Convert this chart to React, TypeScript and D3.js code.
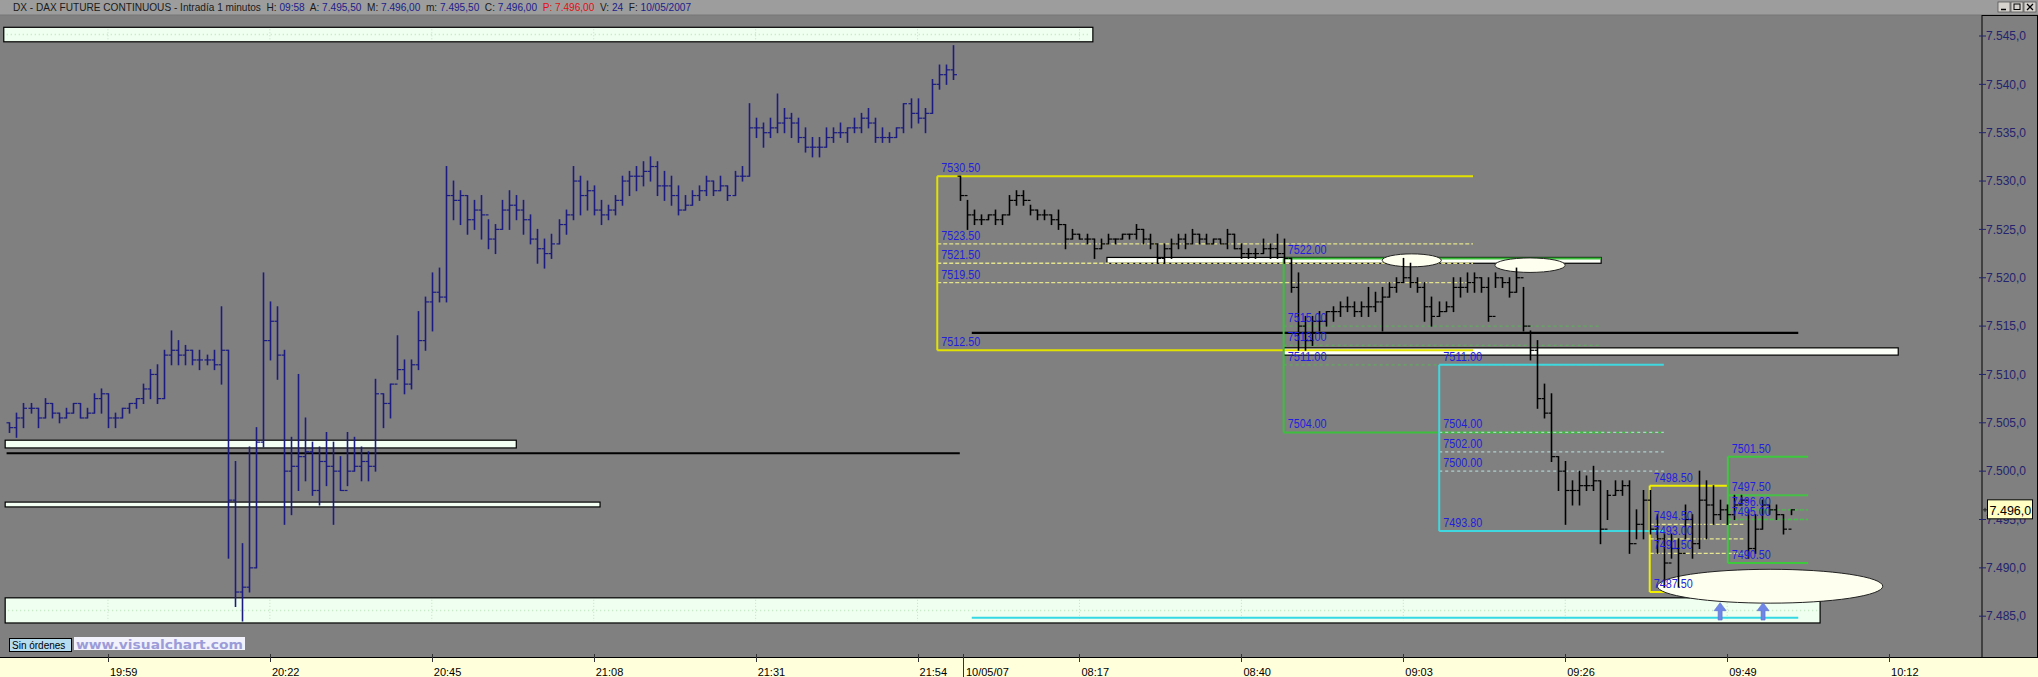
import React from "react";
import * as d3 from "d3";

// ---------- DATA ----------
// Session 1 (09/05/07, 19:45 - 21:59), one bar per minute: [high, low, close]
const day1Bars: [number, number, number][] = [
  [7505.0, 7504.0, 7504.5], [7506.0, 7503.5, 7505.5], [7507.0, 7504.5, 7506.5], [7507.0, 7506.0, 7506.5],
  [7506.5, 7504.5, 7505.5], [7507.5, 7505.5, 7507.0], [7507.0, 7505.5, 7506.0], [7506.0, 7505.0, 7505.5],
  [7506.5, 7505.5, 7506.0], [7507.0, 7506.0, 7507.0], [7507.0, 7505.5, 7505.5], [7506.5, 7505.5, 7506.0],
  [7508.0, 7506.0, 7507.5], [7508.5, 7506.0, 7508.0], [7508.0, 7504.5, 7505.5], [7506.0, 7504.5, 7505.5],
  [7506.5, 7505.5, 7506.5], [7507.0, 7506.0, 7507.0], [7507.5, 7506.5, 7507.5], [7509.0, 7507.0, 7508.5],
  [7510.5, 7507.5, 7510.0], [7511.0, 7507.0, 7507.5], [7512.5, 7507.5, 7512.0], [7514.5, 7511.0, 7512.5],
  [7513.5, 7511.0, 7512.0], [7513.0, 7511.0, 7512.5], [7512.5, 7511.0, 7511.5], [7512.5, 7510.5, 7511.5],
  [7512.0, 7511.0, 7511.5], [7512.5, 7510.5, 7511.0], [7517.0, 7509.0, 7512.5], [7512.5, 7491.0, 7497.0],
  [7501.0, 7486.0, 7487.5], [7492.5, 7484.5, 7488.0], [7502.5, 7487.5, 7490.0], [7504.5, 7490.0, 7503.0],
  [7520.5, 7502.5, 7513.5], [7517.5, 7511.5, 7515.5], [7517.0, 7509.5, 7512.0], [7512.5, 7494.5, 7500.0],
  [7503.5, 7495.5, 7500.5], [7510.0, 7498.0, 7501.5], [7505.5, 7499.0, 7502.0], [7503.0, 7497.5, 7498.0],
  [7502.5, 7496.5, 7501.0], [7504.0, 7498.5, 7500.5], [7503.0, 7494.5, 7500.0], [7501.5, 7498.0, 7498.0],
  [7504.0, 7498.5, 7500.0], [7503.5, 7500.0, 7500.5], [7502.5, 7499.0, 7501.0], [7502.0, 7499.0, 7500.5],
  [7509.5, 7500.0, 7508.0], [7508.0, 7504.5, 7507.0], [7509.0, 7505.5, 7509.0], [7514.0, 7509.5, 7510.5],
  [7511.5, 7508.0, 7509.0], [7511.5, 7508.5, 7511.0], [7516.5, 7510.5, 7513.5], [7518.0, 7512.5, 7517.5],
  [7520.5, 7514.5, 7518.5], [7521.0, 7517.5, 7518.0], [7531.5, 7517.5, 7528.5], [7530.0, 7526.0, 7528.0],
  [7529.0, 7525.5, 7528.5], [7528.5, 7524.5, 7526.0], [7528.0, 7525.0, 7527.0], [7528.5, 7524.0, 7526.5],
  [7526.0, 7523.0, 7524.0], [7525.5, 7522.5, 7525.0], [7528.0, 7525.0, 7527.0], [7529.0, 7525.0, 7527.5],
  [7528.5, 7526.0, 7527.0], [7528.0, 7524.5, 7526.0], [7526.5, 7523.5, 7524.0], [7525.0, 7521.5, 7523.0],
  [7524.0, 7521.0, 7522.5], [7524.5, 7522.0, 7523.5], [7526.0, 7523.5, 7525.5], [7527.0, 7524.5, 7526.5],
  [7531.5, 7526.0, 7530.0], [7530.5, 7526.5, 7528.5], [7530.0, 7527.0, 7529.0], [7529.5, 7526.5, 7527.0],
  [7528.0, 7525.5, 7526.5], [7527.5, 7526.0, 7527.0], [7528.5, 7526.5, 7528.0], [7530.5, 7527.5, 7530.0],
  [7531.0, 7528.5, 7530.5], [7531.5, 7529.0, 7530.5], [7532.0, 7529.5, 7531.0], [7532.5, 7530.0, 7531.5],
  [7532.0, 7528.5, 7529.5], [7531.0, 7528.0, 7529.5], [7530.5, 7527.5, 7528.5], [7529.5, 7526.5, 7527.0],
  [7528.5, 7527.0, 7527.5], [7529.0, 7527.5, 7528.5], [7529.5, 7528.0, 7529.0], [7530.5, 7528.5, 7530.0],
  [7530.0, 7528.5, 7529.0], [7530.5, 7529.0, 7529.5], [7529.5, 7528.0, 7528.5], [7531.0, 7528.5, 7530.5],
  [7531.5, 7530.0, 7530.5], [7538.0, 7530.5, 7535.5], [7536.5, 7534.5, 7535.5], [7536.0, 7533.5, 7535.0],
  [7536.5, 7534.5, 7535.5], [7539.0, 7535.0, 7536.0], [7537.5, 7535.0, 7536.5], [7537.0, 7534.5, 7536.0],
  [7536.5, 7534.0, 7534.5], [7535.5, 7533.0, 7533.5], [7534.5, 7532.5, 7533.5], [7534.5, 7532.5, 7533.5],
  [7535.5, 7533.5, 7534.5], [7535.5, 7534.0, 7535.0], [7536.0, 7534.5, 7535.0], [7535.5, 7534.0, 7535.5],
  [7536.5, 7535.0, 7535.5], [7537.0, 7535.0, 7536.5], [7537.5, 7535.5, 7536.0], [7536.5, 7534.0, 7534.5],
  [7535.5, 7534.0, 7534.5], [7535.0, 7534.0, 7534.5], [7535.5, 7534.5, 7535.5], [7538.0, 7535.0, 7538.0],
  [7538.5, 7535.5, 7537.0], [7538.5, 7536.0, 7536.5], [7537.5, 7535.0, 7537.0], [7540.5, 7537.0, 7540.0],
  [7542.0, 7539.5, 7541.0], [7542.0, 7540.0, 7541.5], [7544.0, 7540.5, 7541.0],
];

// Session 2 (10/05/07, 08:00 - 09:58): [high, low, close]
const day2Bars: [number, number, number][] = [
  [7530.5, 7528.0, 7528.5], [7528.0, 7525.0, 7526.5], [7527.0, 7525.5, 7526.0], [7526.5, 7525.5, 7526.0],
  [7526.5, 7526.0, 7526.5], [7527.0, 7525.5, 7526.0], [7526.5, 7525.5, 7526.5], [7528.5, 7526.5, 7528.0],
  [7529.0, 7527.5, 7528.5], [7529.0, 7527.5, 7528.0], [7527.5, 7526.5, 7527.0], [7527.0, 7526.0, 7526.5],
  [7527.0, 7526.0, 7526.5], [7526.5, 7525.5, 7526.0], [7527.0, 7525.0, 7525.5], [7525.5, 7523.0, 7524.0],
  [7525.0, 7524.0, 7524.5], [7524.5, 7524.0, 7524.0], [7524.5, 7523.5, 7524.0], [7524.0, 7522.0, 7523.0],
  [7524.0, 7523.0, 7523.5], [7524.5, 7523.5, 7524.0], [7524.0, 7523.5, 7524.0], [7524.5, 7524.0, 7524.5],
  [7524.5, 7524.0, 7524.5], [7525.5, 7524.0, 7525.0], [7525.0, 7523.5, 7524.0], [7524.5, 7523.0, 7523.5],
  [7523.5, 7521.5, 7522.0], [7523.5, 7521.5, 7523.0], [7524.0, 7522.0, 7523.5], [7524.5, 7523.0, 7524.0],
  [7524.5, 7523.0, 7523.5], [7525.0, 7523.5, 7524.5], [7524.5, 7523.5, 7524.0], [7524.5, 7523.5, 7523.5],
  [7524.0, 7523.5, 7524.0], [7524.0, 7523.5, 7523.5], [7525.0, 7523.0, 7524.5], [7524.5, 7523.0, 7523.0],
  [7523.5, 7522.0, 7522.5], [7523.0, 7522.0, 7522.5], [7523.0, 7522.0, 7522.5], [7524.0, 7522.5, 7523.0],
  [7523.5, 7522.0, 7523.0], [7524.5, 7522.0, 7522.5], [7524.0, 7521.5, 7522.0], [7522.0, 7518.5, 7519.0],
  [7520.5, 7512.5, 7515.0], [7516.0, 7512.5, 7513.5], [7516.0, 7513.0, 7515.5], [7516.5, 7514.5, 7515.5],
  [7516.5, 7515.0, 7516.5], [7517.0, 7515.5, 7516.5], [7517.5, 7516.0, 7517.0], [7518.0, 7516.5, 7517.0],
  [7517.5, 7516.0, 7516.5], [7517.5, 7516.0, 7517.0], [7519.0, 7516.0, 7517.0], [7518.5, 7516.5, 7517.5],
  [7519.0, 7514.5, 7518.0], [7519.5, 7518.0, 7519.0], [7520.0, 7518.5, 7519.5], [7522.0, 7519.5, 7520.0],
  [7521.5, 7519.0, 7519.5], [7520.0, 7518.5, 7519.0], [7519.5, 7515.5, 7517.0], [7518.0, 7515.0, 7516.0],
  [7517.5, 7516.0, 7516.5], [7517.5, 7516.5, 7517.0], [7520.0, 7516.5, 7519.0], [7520.0, 7518.0, 7519.0],
  [7520.5, 7518.5, 7519.5], [7520.5, 7518.5, 7520.0], [7520.0, 7518.5, 7519.0], [7520.0, 7515.5, 7516.0],
  [7520.5, 7519.0, 7520.0], [7520.0, 7519.0, 7519.5], [7520.0, 7518.0, 7518.5], [7521.0, 7518.5, 7520.0],
  [7519.0, 7514.5, 7515.0], [7514.5, 7511.5, 7512.5], [7513.5, 7506.5, 7507.5], [7509.0, 7505.5, 7506.0],
  [7508.0, 7501.0, 7501.5], [7501.5, 7498.0, 7500.0], [7501.0, 7494.5, 7498.0], [7499.0, 7496.5, 7498.0],
  [7500.0, 7496.5, 7498.5], [7499.5, 7498.0, 7498.5], [7500.5, 7498.0, 7499.0], [7499.0, 7492.5, 7494.0],
  [7498.0, 7495.0, 7497.5], [7499.0, 7497.5, 7498.0], [7499.0, 7497.5, 7498.5], [7499.0, 7491.5, 7492.5],
  [7496.0, 7493.0, 7494.5], [7498.0, 7493.0, 7497.0], [7498.0, 7493.5, 7494.0], [7495.5, 7491.5, 7493.0],
  [7493.5, 7488.0, 7490.5], [7493.5, 7491.0, 7492.0], [7493.0, 7488.0, 7491.5], [7496.5, 7493.0, 7495.0],
  [7495.5, 7491.0, 7492.5], [7500.0, 7492.0, 7497.0], [7499.0, 7493.0, 7496.5], [7498.5, 7494.5, 7495.5],
  [7497.0, 7495.0, 7496.0], [7496.5, 7494.5, 7495.5], [7497.5, 7495.0, 7496.5], [7497.5, 7496.5, 7497.0],
  [7496.0, 7491.0, 7492.0], [7495.5, 7491.5, 7494.0], [7497.0, 7494.0, 7496.5], [7496.5, 7495.5, 7496.0],
  [7496.5, 7495.0, 7495.5], [7495.5, 7493.5, 7494.0], [7496.0, 7495.5, 7496.0],
];
const day2FirstBar = 135;

const priceTicks = [7545, 7540, 7535, 7530, 7525, 7520, 7515, 7510, 7505, 7500, 7495, 7490, 7485];
const timeTickLabels = ["19:59", "20:22", "20:45", "21:08", "21:31", "21:54", "08:17", "08:40", "09:03", "09:26", "09:49", "10:12"];
const timeTickBars = [14, 37, 60, 83, 106, 129, 152, 175, 198, 221, 244, 267];
const sessionLabel = "10/05/07";
const sessionBar = 135.45;
const lastPrice = 7496.0;

// drawn objects (price levels and bar spans)
const zonePrices = [[7503.2, 7502.4], [7496.8, 7496.3]];
const zoneSpans = [[-0.6, 72], [-0.6, 83.9]];
const blackLinePrices = [7501.85, 7514.3];
const blackLineSpans = [[-0.4, 135], [136.7, 254.1]];
const whiteBarPrices = [[7522.1, 7521.5], [7512.75, 7512.0]];
const whiteBarSpans = [[155.9, 226.1], [181.0, 268.3]];
const stripPrices = [[7545.9, 7544.4], [7486.9, 7484.3]];
const stripSpans = [[-0.8, 153.9], [-0.6, 257.2]];
const cyanTrailPrice = 7484.85;
const cyanTrailSpan = [136.7, 254.1];
const arrowBars = [243.0, 249.1];
const arrowPrices = [7486.4, 7484.6];

const boxLeft = [131.8, 181.0, 203.1, 233.0, 244.1];
const boxRight = [207.9, 226.1, 235.0, 246.3, 255.5];
const boxTopRight = [207.9, 226.1, 235.0, 244.1, 255.5];
const boxBottomDashedTo = [207.9, 235.0, 235.0, 246.3, 255.5];
const boxTops = [7530.5, 7522.0, 7511.0, 7498.5, 7501.5];
const boxBottoms = [7512.5, 7504.0, 7493.8, 7487.5, 7490.5];
const boxInner = [
  [7523.5, 7521.5, 7519.5],
  [7515.0, 7513.0, 7511.0],
  [7504.0, 7502.0, 7500.0],
  [7494.5, 7493.0, 7491.5],
  [7497.5, 7496.0, 7495.0],
];

const ellipseCenters = [[199.2, 7521.8], [216.0, 7521.3], [250.1, 7488.1]];
const ellipseRadii = [[4.2, 0.67], [5.0, 0.75], [16.0, 1.75]];

// ---------- STYLES ----------
const boxStroke = ["#e2e200", "#3dbf3d", "#3fd8e0", "#f0f000", "#3dc83d"];
const boxInnerStroke = ["#e4e48c", "#5faa5f", "#b0d0cc", "#e8e890", "#47c047"];
const boxInnerDash = ["4,2", "3,3", "3,3", "4,2", "4,2"];

const x = d3.scaleLinear().domain([0, 280]).range([9.4, 9.4 + 7.04 * 280]);
const y = d3.scaleLinear().domain([7485, 7545]).range([616.2, 36]);

const axisFmt = (v: number) => {
  const s = v.toFixed(1);
  const [i, d] = s.split(".");
  return i.slice(0, i.length - 3) + "." + i.slice(-3) + "," + d;
};

function Bars({ bars, first, color }: { bars: [number, number, number][]; first: number; color: string }) {
  return (
    <g>
      {bars.map(([h, l, c], k) => {
        const o = k === 0 ? h : bars[k - 1][2];
        const cx = Math.round(x(first + k)) + 0.5;
        return (
          <g key={k} stroke={color}>
            <line x1={cx} x2={cx} y1={y(h) - 0.5} y2={y(l) + 0.5} strokeWidth={1.6} />
            <line x1={cx - 3} x2={cx} y1={y(o)} y2={y(o)} strokeWidth={1.2} />
            <line x1={cx} x2={cx + 3.5} y1={y(c)} y2={y(c)} strokeWidth={1.2} />
          </g>
        );
      })}
    </g>
  );
}

function Strip({ p, s }: { p: number[]; s: number[] }) {
  const x0 = x(s[0]), x1 = x(s[1]), y0 = y(p[0]), y1 = y(p[1]);
  const mid = (y0 + y1) / 2;
  return (
    <g>
      <rect x={x0} y={y0} width={x1 - x0} height={y1 - y0} fill="#effff0" stroke="#000" strokeWidth={1.2} />
      <line x1={x0 + 3} x2={x1 - 3} y1={mid} y2={mid} stroke="#bfe6bf" strokeWidth={1.5} strokeDasharray="1,3" />
      {timeTickBars.filter((b) => x(b) > x0 && x(b) < x1).map((b) => (
        <line key={b} x1={x(b)} x2={x(b)} y1={y0 + 2} y2={y1 - 2} stroke="#c6dcc6" strokeDasharray="1,2" />
      ))}
    </g>
  );
}

export default function App() {
  const labelFont = "'Liberation Sans', Arial, sans-serif";
  const titleParts: [string, string][] = [
    ["DX - DAX FUTURE CONTINUOUS - Intradía 1 minutos  H: ", "#1a1a1a"],
    ["09:58", "#1c1c8a"],
    ["  A: ", "#1a1a1a"],
    ["7.495,50", "#1c1c8a"],
    ["  M: ", "#1a1a1a"],
    ["7.496,00", "#1c1c8a"],
    ["  m: ", "#1a1a1a"],
    ["7.495,50", "#1c1c8a"],
    ["  C: ", "#1a1a1a"],
    ["7.496,00", "#1c1c8a"],
    ["  P: 7.496,00", "#e01010"],
    ["  V: ", "#1a1a1a"],
    ["24", "#1c1c8a"],
    ["  F: ", "#1a1a1a"],
    ["10/05/2007", "#1c1c8a"],
  ];
  return (
    <svg
      width={2038}
      height={677}
      style={{ position: "absolute", left: 0, top: 0, display: "block" }}
      fontFamily={labelFont}
    >
      <rect x={0} y={0} width={2038} height={677} fill="#808080" />
      {/* title bar */}
      <rect x={0} y={0} width={2038} height={15} fill="#9d9d9d" />
      <line x1={0} x2={2038} y1={15} y2={15} stroke="#777" />
      <text x={13} y={11} fontSize={10.1} xmlSpace="preserve" style={{ whiteSpace: "pre" }}>
        {titleParts.map(([t, c], k) => (
          <tspan key={k} fill={c}>{t}</tspan>
        ))}
      </text>
      {/* window buttons */}
      {[1998, 2011, 2024].map((bx, k) => (
        <g key={bx}>
          <rect x={bx} y={2} width={12} height={10} fill="#d6d3ce" stroke="#555" strokeWidth={0.8} />
          {k === 0 && <line x1={bx + 3} x2={bx + 8} y1={9.5} y2={9.5} stroke="#000" strokeWidth={1.5} />}
          {k === 1 && <rect x={bx + 3} y={4} width={6} height={5.5} fill="none" stroke="#000" strokeWidth={1} />}
          {k === 2 && (
            <path d={`M${bx + 3},4 L${bx + 9},10 M${bx + 9},4 L${bx + 3},10`} stroke="#000" strokeWidth={1.3} />
          )}
        </g>
      ))}

      {/* order strips */}
      {stripPrices.map((p, k) => (
        <Strip key={k} p={p} s={stripSpans[k]} />
      ))}
      <line x1={x(cyanTrailSpan[0])} x2={x(cyanTrailSpan[1])} y1={y(cyanTrailPrice)} y2={y(cyanTrailPrice)} stroke="#34d8e4" strokeWidth={2} />

      {/* previous-session zones and black levels */}
      {zonePrices.map((p, k) => (
        <rect key={k} x={x(zoneSpans[k][0])} y={y(p[0])} width={x(zoneSpans[k][1]) - x(zoneSpans[k][0])} height={y(p[1]) - y(p[0])} fill="#f4fff4" stroke="#000" strokeWidth={1.2} />
      ))}
      {blackLinePrices.map((p, k) => (
        <line key={k} x1={x(blackLineSpans[k][0])} x2={x(blackLineSpans[k][1])} y1={y(p)} y2={y(p)} stroke="#000" strokeWidth={2.2} />
      ))}
      {whiteBarPrices.map((p, k) => (
        <rect key={k} x={x(whiteBarSpans[k][0])} y={y(p[0])} width={x(whiteBarSpans[k][1]) - x(whiteBarSpans[k][0])} height={y(p[1]) - y(p[0])} fill="#fbfff8" stroke="#000" strokeWidth={1.2} />
      ))}

      {/* level boxes */}
      {boxTops.map((top, k) => {
        const xl = x(boxLeft[k]);
        const xr = x(boxRight[k]);
        const xt = x(boxTopRight[k]);
        const xd = x(boxBottomDashedTo[k]);
        const bot = boxBottoms[k];
        return (
          <g key={k}>
            {boxInner[k].map((lv, j) => (
              <line key={j} x1={xl} x2={xr} y1={y(lv)} y2={y(lv)} stroke={boxInnerStroke[k]} strokeWidth={k === 4 && j === 0 ? 2 : 1.3} strokeDasharray={k === 4 && j === 0 ? undefined : boxInnerDash[k]} />
            ))}
            <line x1={xl} x2={xt} y1={y(top)} y2={y(top)} stroke={boxStroke[k]} strokeWidth={2} />
            <line x1={xl} x2={xr} y1={y(bot)} y2={y(bot)} stroke={boxStroke[k]} strokeWidth={2} />
            {xd > xr && <line x1={xr} x2={xd} y1={y(bot)} y2={y(bot)} stroke={boxStroke[k]} strokeWidth={1.5} strokeDasharray="4,3" />}
            <line x1={xl} x2={xl} y1={y(top)} y2={y(bot)} stroke={boxStroke[k]} strokeWidth={2} />
          </g>
        );
      })}

      {/* ellipses */}
      {ellipseCenters.map(([b, p], k) => (
        <ellipse key={k} cx={x(b)} cy={y(p)} rx={x(b + ellipseRadii[k][0]) - x(b)} ry={y(p - ellipseRadii[k][1]) - y(p)} fill="#fffff0" stroke="#222" strokeWidth={1} />
      ))}

      {/* price bars */}
      <Bars bars={day1Bars} first={0} color="#1b1b80" />
      <Bars bars={day2Bars} first={day2FirstBar} color="#000" />

      {/* arrows */}
      {arrowBars.map((b) => {
        const ax = x(b);
        const yt = y(arrowPrices[0]);
        const yb = y(arrowPrices[1]);
        return (
          <path key={b} d={`M${ax},${yt} L${ax + 6},${yt + 8} L${ax + 2},${yt + 8} L${ax + 2},${yb} L${ax - 2},${yb} L${ax - 2},${yt + 8} L${ax - 6},${yt + 8} Z`} fill="#6f86e6" stroke="#5a6fd0" strokeWidth={0.6} />
        );
      })}

      {/* level labels */}
      {boxTops.map((top, k) => {
        const levels = [top, ...boxInner[k], boxBottoms[k]];
        return levels.map((lv, j) => (
          <text key={`${k}-${j}`} x={x(boxLeft[k]) + 4} y={y(lv) - 4} fontSize={12.5} fill="#1f1fdc" textLength={39} lengthAdjust="spacingAndGlyphs">
            {lv.toFixed(2)}
          </text>
        ));
      })}

      {/* right price axis */}
      <rect x={1982} y={15.5} width={55.5} height={642} fill="#808080" stroke="#000" strokeWidth={1} />
      {priceTicks.map((p) => (
        <g key={p}>
          <line x1={1979} x2={1986} y1={y(p)} y2={y(p)} stroke="#23236e" strokeWidth={1} />
          <text x={1986} y={y(p)} dy="0.35em" fontSize={12} fill="#23236e">
            {axisFmt(p)}
          </text>
        </g>
      ))}
      <rect x={1987.5} y={y(lastPrice) - 10} width={45} height={19} fill="#ffffc4" stroke="#000" strokeWidth={1} />
      <text x={1989.5} y={y(lastPrice)} dy="0.38em" fontSize={12.5} fill="#000">
        {axisFmt(lastPrice)}
      </text>
      <path d={`M1983,${y(lastPrice)} h4 M1985,${y(lastPrice) - 2} v4`} stroke="#222" strokeWidth={1} />

      {/* bottom: orders label and watermark */}
      <rect x={9.5} y={638.5} width={62} height={13} fill="#b6dcf0" stroke="#000" strokeWidth={1} />
      <text x={12} y={648.5} fontSize={10} fill="#000">Sin órdenes</text>
      <rect x={74} y={637} width={171} height={13} fill="#f2f2fc" />
      <text x={76} y={648.5} fontSize={13} fontWeight="bold" fill="#9c9cd8" fontFamily="'DejaVu Sans', Verdana, sans-serif" textLength={167} lengthAdjust="spacingAndGlyphs">
        www.visualchart.com
      </text>

      {/* time axis */}
      <rect x={0} y={657.5} width={2038} height={20} fill="#ffffdc" />
      <line x1={0} x2={2038} y1={657.5} y2={657.5} stroke="#000" strokeWidth={1} />
      {timeTickBars.map((b, k) => (
        <g key={b}>
          <line x1={Math.round(x(b)) + 0.5} x2={Math.round(x(b)) + 0.5} y1={654} y2={662} stroke="#333" />
          <text x={x(b) + 2} y={675.5} fontSize={11} fill="#000">
            {timeTickLabels[k]}
          </text>
        </g>
      ))}
      <line x1={Math.round(x(sessionBar)) + 0.5} x2={Math.round(x(sessionBar)) + 0.5} y1={654} y2={677} stroke="#333" />
      <text x={x(sessionBar) + 3} y={675.5} fontSize={11} fill="#000">
        {sessionLabel}
      </text>
    </svg>
  );
}
